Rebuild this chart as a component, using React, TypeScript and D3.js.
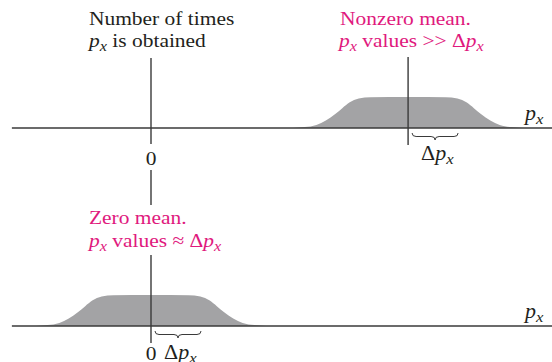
import React from "react";
import * as d3 from "d3";

// distribution profile, offsets in units of Δp from the mean, heights relative to plateau
const profileOffsets = [-2.45, -2.2, -1.95, -1.75, -1.55, -1.4, -1.25, -1.05, -0.8, 0, 0.8, 1.05, 1.25, 1.4, 1.55, 1.75, 1.95, 2.2, 2.45];
const profileHeights = [0, 0.03, 0.1, 0.24, 0.45, 0.64, 0.82, 0.95, 0.99, 1, 0.99, 0.95, 0.82, 0.64, 0.45, 0.24, 0.1, 0.03, 0];
const panelMeans = [5.47, 0];
const deltaP = 1;
const axisDomain = [-2.96, 8.6];

const MAG = "#e0197d";
const AX = "#3a3a3a";
const INK = "#231f20";
const FONT = "Liberation Serif";
const SX = 1.1; // horizontal stretch to match the wider print face

const x = d3.scaleLinear().domain([0, 1]).range([151, 198]);
const panelY = [
  d3.scaleLinear().domain([0, 1]).range([128, 97]),
  d3.scaleLinear().domain([0, 1]).range([326, 295]),
];

function bracePath(x1: number, x2: number, y: number, h: number) {
  const p = d3.path();
  const xm = (x1 + x2) / 2;
  const q = 4;
  p.moveTo(x1, y);
  p.quadraticCurveTo(x1, y + h / 2, x1 + q, y + h / 2);
  p.lineTo(xm - q, y + h / 2);
  p.quadraticCurveTo(xm, y + h / 2, xm, y + h);
  p.quadraticCurveTo(xm, y + h / 2, xm + q, y + h / 2);
  p.lineTo(x2 - q, y + h / 2);
  p.quadraticCurveTo(x2, y + h / 2, x2, y);
  return p.toString();
}

// rich text: segments; "P" = italic p with subscript x
function Rich({ segs, x: tx, y: ty, size, fill, anchor }: { segs: string[]; x: number; y: number; size: number; fill: string; anchor?: string }) {
  const out: React.ReactNode[] = [];
  let lowered = false;
  const d = size * 0.22;
  segs.forEach((s, i) => {
    if (s === "P") {
      out.push(<tspan key={i + "p"} fontStyle="italic" dy={lowered ? -d : 0}>p</tspan>);
      out.push(<tspan key={i + "x"} fontStyle="italic" fontSize={size * 0.76} dy={d}>x</tspan>);
      lowered = true;
    } else {
      out.push(<tspan key={i} dy={lowered ? -d : 0}>{s}</tspan>);
      lowered = false;
    }
  });
  return (
    <text
      transform={`translate(${tx},${ty}) scale(${SX},1)`}
      x={0}
      y={0}
      fill={fill}
      textAnchor={anchor}
      style={{ fontFamily: FONT, fontSize: size + "px" }}
    >
      {out}
    </text>
  );
}

export default function App() {
  const pts = profileOffsets.map((o, i) => ({ o, h: profileHeights[i] }));
  return (
    <svg width={552} height={362} style={{ position: "absolute", left: 0, top: 0, background: "#fff" }}>
      {panelMeans.map((m, i) => {
        const y = panelY[i];
        const area = d3
          .area<{ o: number; h: number }>()
          .x((d) => x(m + d.o))
          .y0(y(0))
          .y1((d) => y(d.h))
          .curve(d3.curveMonotoneX);
        return (
          <g key={i}>
            <path d={area(pts) || ""} fill="#a3a3a5" />
            <line x1={x(axisDomain[0])} x2={x(axisDomain[1])} y1={y(0)} y2={y(0)} stroke={AX} strokeWidth={1.4} />
            <path
              d={bracePath(x(m) + 4, x(m + deltaP) + 3, y(0) + 5, 7)}
              fill="none"
              stroke={AX}
              strokeWidth={1}
            />
            <Rich segs={["P"]} x={525} y={y(0) - 8} size={20} fill={INK} />
          </g>
        );
      })}
      {/* vertical axis at zero */}
      <line x1={x(0)} x2={x(0)} y1={58} y2={144} stroke={AX} strokeWidth={1.4} />
      <line x1={x(0)} x2={x(0)} y1={170} y2={205} stroke={AX} strokeWidth={1.4} />
      <line x1={x(0)} x2={x(0)} y1={255} y2={343} stroke={AX} strokeWidth={1.4} />
      {/* mean marker, top panel */}
      <line x1={x(panelMeans[0])} x2={x(panelMeans[0])} y1={57} y2={145} stroke={AX} strokeWidth={1.4} />

      <Rich segs={["0"]} x={x(0)} y={165} size={19.5} fill={INK} anchor="middle" />
      <Rich segs={["0"]} x={x(0)} y={360} size={19.5} fill={INK} anchor="middle" />

      <Rich segs={["Δ", "P"]} x={421} y={160} size={20} fill={INK} />
      <Rich segs={["Δ", "P"]} x={164} y={359} size={20} fill={INK} />

      <Rich segs={["Number of times"]} x={89} y={25} size={19.5} fill={INK} />
      <Rich segs={["P", " is obtained"]} x={89} y={47} size={19.5} fill={INK} />

      <Rich segs={["Nonzero mean."]} x={340} y={25} size={19.5} fill={MAG} />
      <Rich segs={["P", " values >> Δ", "P"]} x={339} y={47} size={19.5} fill={MAG} />

      <Rich segs={["Zero mean."]} x={89} y={224} size={19.5} fill={MAG} />
      <Rich segs={["P", " values ≈ Δ", "P"]} x={89} y={247} size={19.5} fill={MAG} />
    </svg>
  );
}
